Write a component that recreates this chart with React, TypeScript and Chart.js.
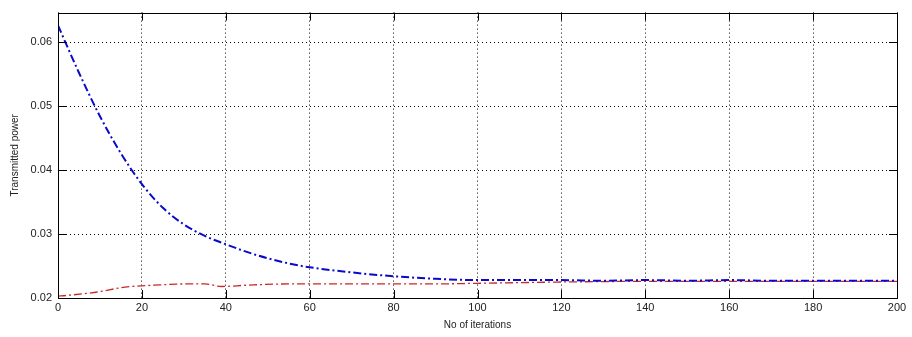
import React, { useEffect, useRef } from "react";
import { Chart, registerables } from "chart.js";

Chart.register(...registerables);

const blueIterations = [0, 5, 10, 15, 20, 25, 30, 35, 40, 45, 50, 55, 60, 70, 80, 90, 100, 110, 120, 130, 140, 150, 160, 170, 180, 190, 200];
const bluePower = [0.0626, 0.0552, 0.0484, 0.0426, 0.0378, 0.0341, 0.0315, 0.0297, 0.0284, 0.0272, 0.0262, 0.0254, 0.0248, 0.0240, 0.0234, 0.0230, 0.0228, 0.0228, 0.0228, 0.0227, 0.0228, 0.0227, 0.0228, 0.0227, 0.0227, 0.0227, 0.0227];
const redIterations = [0, 2, 9, 16, 23, 31, 35, 39, 45, 55, 70, 90, 100, 110, 120, 140, 160, 180, 200];
const redPower = [0.0203, 0.0204, 0.0209, 0.0217, 0.0220, 0.0222, 0.0222, 0.0218, 0.0220, 0.0222, 0.0222, 0.0222, 0.0223, 0.0224, 0.0225, 0.0226, 0.0226, 0.0226, 0.0226];
const xTicks = [0, 20, 40, 60, 80, 100, 120, 140, 160, 180, 200];
const yTicks = [0.02, 0.03, 0.04, 0.05, 0.06];

const frame = {
  id: "frame",
  afterDatasetsDraw(chart: any) {
    const { ctx, chartArea: a, scales } = chart;
    ctx.save();
    ctx.strokeStyle = "#000";
    ctx.lineWidth = 1;
    ctx.setLineDash([]);
    ctx.strokeRect(Math.round(a.left) + 0.5, Math.round(a.top) + 0.5, Math.round(a.right - a.left), Math.round(a.bottom - a.top));
    ctx.beginPath();
    for (const v of xTicks) {
      const x = Math.round(scales.x.getPixelForValue(v)) + 0.5;
      ctx.moveTo(x, a.bottom);
      ctx.lineTo(x, a.bottom - 8);
      ctx.moveTo(x, a.top);
      ctx.lineTo(x, a.top + 8);
    }
    for (const v of yTicks) {
      const y = Math.round(scales.y.getPixelForValue(v)) + 0.5;
      ctx.moveTo(a.left, y);
      ctx.lineTo(a.left + 8, y);
      ctx.moveTo(a.right, y);
      ctx.lineTo(a.right - 8, y);
    }
    ctx.stroke();
    ctx.restore();
  },
};

export default function App() {
  const ref = useRef<HTMLCanvasElement>(null);
  useEffect(() => {
    document.body.style.margin = "0";
    const chart = new Chart(ref.current!, {
      type: "line",
      data: {
        datasets: [
          {
            label: "Blue",
            data: blueIterations.map((x, i) => ({ x, y: bluePower[i] })),
            borderColor: "rgb(10,10,200)",
            borderWidth: 2,
            borderDash: [8, 3, 2, 3],
            pointRadius: 0,
            cubicInterpolationMode: "monotone",
          },
          {
            label: "Red",
            data: redIterations.map((x, i) => ({ x, y: redPower[i] })),
            borderColor: "rgb(200,40,40)",
            borderWidth: 1.3,
            borderDash: [8, 3, 2, 3],
            pointRadius: 0,
            cubicInterpolationMode: "monotone",
          },
        ],
      },
      options: {
        animation: false,
        responsive: false,
        layout: { padding: { left: 9, right: 15, top: 10, bottom: 6 } },
        plugins: { legend: { display: false }, tooltip: { enabled: false } },
        scales: {
          x: {
            type: "linear",
            min: 0,
            max: 200,
            afterBuildTicks: (s: any) => { s.ticks = xTicks.map((v) => ({ value: v })); },
            afterFit: (s: any) => { s.height = 33; },
            grid: { color: "#000", lineWidth: 1, drawTicks: false, tickLength: 0 },
            border: { display: false, dash: [1, 3] },
            ticks: { color: "#222", font: { family: "Liberation Sans", size: 11 }, padding: 3, maxRotation: 0 },
            title: { display: true, text: "No of iterations", color: "#222", font: { family: "Liberation Sans", size: 10 }, padding: { top: 0, bottom: 0 } },
          },
          y: {
            type: "linear",
            min: 0.02,
            max: 0.0646,
            afterBuildTicks: (s: any) => { s.ticks = yTicks.map((v) => ({ value: v })); },
            afterFit: (s: any) => { s.width = 49; },
            grid: { color: "#000", lineWidth: 1, drawTicks: false, tickLength: 0 },
            border: { display: false, dash: [1, 3] },
            ticks: { color: "#222", font: { family: "Liberation Sans", size: 11 }, padding: 6, callback: (v: any) => Number(v).toFixed(2) },
            title: { display: true, text: "Transmitted power", color: "#222", font: { family: "Liberation Sans", size: 10 }, padding: { top: 0, bottom: 0 } },
          },
        },
      },
      plugins: [frame],
    });
    return () => chart.destroy();
  }, []);
  return (
    <div style={{ width: 912, height: 337, background: "#fff" }}>
      <canvas ref={ref} width={912} height={337} />
    </div>
  );
}
